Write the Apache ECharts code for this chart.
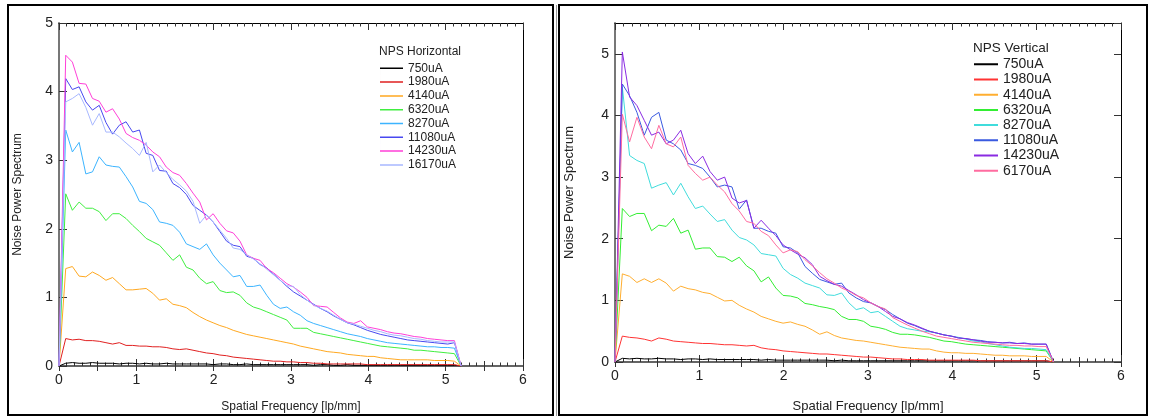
<!DOCTYPE html>
<html>
<head>
<meta charset="utf-8">
<script src="https://cdn.jsdelivr.net/npm/echarts@6/dist/echarts.min.js"></script>
<style>
html,body{margin:0;padding:0;background:#fff;}
#c{width:1149px;height:418px;}
</style>
</head>
<body>
<div id="c"></div>
<script>
// ---------- DATA ----------
const freq = [0, 0.087, 0.173, 0.26, 0.347, 0.433, 0.52, 0.607, 0.693, 0.78, 0.867, 0.953, 1.04, 1.127, 1.213, 1.3, 1.387, 1.473, 1.56, 1.647, 1.733, 1.82, 1.907, 1.993, 2.08, 2.167, 2.253, 2.34, 2.427, 2.513, 2.6, 2.687, 2.773, 2.86, 2.947, 3.033, 3.12, 3.207, 3.293, 3.38, 3.467, 3.553, 3.64, 3.727, 3.813, 3.9, 3.987, 4.073, 4.16, 4.247, 4.333, 4.42, 4.507, 4.593, 4.68, 4.767, 4.853, 4.94, 5.027, 5.113, 5.2];

const xTicks = [0, 1, 2, 3, 4, 5, 6];
const hTitle = 'NPS Horizontal';
const vTitle = 'NPS Vertical';
const xName = 'Spatial Frequency [lp/mm]';
const yName = 'Noise Power Spectrum';

const hNames = ['750uA', '1980uA', '4140uA', '6320uA', '8270uA', '11080uA', '14230uA', '16170uA'];
const vNames = ['750uA', '1980uA', '4140uA', '6320uA', '8270uA', '11080uA', '14230uA', '6170uA'];

// Horizontal NPS
const h750 = [0, 0.04,0.05,0.04,0.04,0.05,0.04,0.04,0.04,0.03,0.04, 0.04,0.03,0.04,0.03,0.03,0.04,0.03,0.03,0.03,0.03, 0.03,0.03,0.02,0.03,0.03,0.02,0.02,0.03,0.02,0.02, 0.02,0.02,0.02,0.02,0.02,0.02,0.02,0.01,0.02,0.02, 0.01,0.01,0.02,0.01,0.01,0.01,0.01,0.01,0.01,0.01, 0.01,0.01,0.01,0.01,0.01,0.01,0.01,0.01,0.01, 0];
const h1980 = [0, 0.40,0.38,0.39,0.37,0.37,0.36,0.34,0.32,0.34,0.30, 0.30,0.29,0.29,0.28,0.28,0.27,0.25,0.24,0.25,0.23, 0.21,0.19,0.18,0.16,0.15,0.13,0.12,0.11,0.10,0.09, 0.08,0.07,0.07,0.06,0.06,0.05,0.05,0.04,0.04,0.03, 0.03,0.03,0.03,0.03,0.03,0.02,0.02,0.02,0.02,0.02, 0.02,0.02,0.02,0.02,0.02,0.02,0.02,0.02,0.02, 0];
const h4140 = [0, 1.42,1.45,1.31,1.30,1.37,1.32,1.25,1.29,1.20,1.11, 1.11,1.12,1.13,1.06,0.96,0.98,0.90,0.88,0.85,0.78, 0.72,0.67,0.63,0.59,0.56,0.52,0.49,0.46,0.44,0.42, 0.40,0.38,0.36,0.34,0.32,0.29,0.27,0.25,0.23,0.21, 0.20,0.19,0.17,0.16,0.15,0.14,0.14,0.12,0.11,0.10, 0.09,0.09,0.09,0.09,0.09,0.08,0.08,0.08,0.07, 0];
const h6320 = [0, 2.51,2.27,2.39,2.30,2.30,2.25,2.12,2.22,2.22,2.15, 2.05,1.96,1.86,1.81,1.76,1.65,1.54,1.62,1.44,1.40, 1.28,1.20,1.23,1.10,1.07,1.08,1.03,0.92,0.86,0.83, 0.79,0.75,0.71,0.67,0.55,0.55,0.55,0.49,0.47,0.45, 0.43,0.41,0.39,0.37,0.35,0.33,0.31,0.29,0.28,0.27, 0.26,0.25,0.23,0.23,0.22,0.21,0.20,0.19,0.18, 0];
const h8270 = [0, 3.44,3.12,3.26,2.80,2.83,3.05,2.93,2.91,2.90,2.76, 2.61,2.40,2.37,2.28,2.10,2.08,2.05,1.95,1.78,1.74, 1.70,1.78,1.62,1.50,1.40,1.30,1.32,1.16,1.16,1.18, 1.03,0.90,0.84,0.86,0.79,0.74,0.66,0.62,0.59,0.56, 0.53,0.50,0.47,0.45,0.43,0.40,0.38,0.36,0.34,0.33, 0.32,0.31,0.30,0.29,0.28,0.28,0.27,0.27,0.26, 0];
const h11080 = [0, 4.19,4.03,4.07,3.85,3.73,3.80,3.55,3.38,3.51,3.56, 3.41,3.44,3.10,3.07,2.85,2.84,2.66,2.60,2.50,2.34, 2.27,2.20,2.10,1.96,1.82,1.76,1.74,1.60,1.57,1.48, 1.43,1.34,1.25,1.16,1.08,1.02,0.96,0.90,0.84,0.79, 0.73,0.68,0.63,0.60,0.56,0.52,0.49,0.46,0.44,0.42, 0.40,0.38,0.37,0.36,0.35,0.34,0.33,0.32,0.34, 0];
const h14230 = [0, 4.53,4.43,4.12,4.11,3.90,3.86,3.70,3.75,3.60,3.39, 3.33,3.29,3.22,3.12,3.05,2.90,2.82,2.78,2.66,2.52, 2.39,2.13,2.22,2.08,1.97,1.94,1.82,1.62,1.57,1.54, 1.42,1.36,1.28,1.20,1.15,1.08,1.00,0.88,0.87,0.86, 0.78,0.70,0.64,0.62,0.66,0.57,0.55,0.53,0.50,0.48, 0.47,0.45,0.43,0.42,0.40,0.39,0.38,0.37,0.37, 0];
const h16170 = [0, 3.85,3.90,3.97,3.77,3.51,3.68,3.41,3.41,3.34,3.25, 3.17,3.07,3.26,2.83,2.93,2.82,2.72,2.64,2.55,2.40, 2.08,2.20,2.10,1.98,1.86,1.72,1.70,1.62,1.56,1.49, 1.41,1.33,1.25,1.17,1.16,1.04,0.96,0.89,0.84,0.80, 0.74,0.68,0.63,0.61,0.58,0.55,0.52,0.50,0.47,0.45, 0.44,0.42,0.40,0.39,0.37,0.36,0.35,0.35,0.35, 0];

// Vertical NPS
const v750 = [0, 0.06,0.05,0.06,0.05,0.05,0.06,0.05,0.05,0.04,0.05, 0.05,0.04,0.05,0.04,0.04,0.04,0.04,0.04,0.04,0.03, 0.04,0.03,0.03,0.03,0.03,0.03,0.03,0.03,0.03,0.02, 0.03,0.02,0.02,0.02,0.02,0.02,0.02,0.02,0.02,0.02, 0.02,0.02,0.02,0.02,0.02,0.02,0.02,0.02,0.02,0.02, 0.02,0.02,0.02,0.02,0.02,0.02,0.02,0.02,0.02, 0];
const v1980 = [0, 0.42,0.40,0.39,0.37,0.34,0.39,0.37,0.34,0.33,0.32, 0.31,0.30,0.30,0.29,0.28,0.28,0.27,0.26,0.27,0.23, 0.21,0.20,0.18,0.17,0.16,0.15,0.14,0.13,0.13,0.12, 0.11,0.10,0.09,0.08,0.08,0.07,0.06,0.05,0.05,0.04, 0.04,0.04,0.03,0.03,0.03,0.03,0.03,0.03,0.03,0.02, 0.02,0.02,0.02,0.02,0.02,0.02,0.02,0.02,0.02, 0];
const v4140 = [0, 1.43,1.39,1.29,1.35,1.29,1.35,1.28,1.15,1.23,1.19, 1.17,1.13,1.11,1.05,0.99,1.00,0.92,0.86,0.81,0.74, 0.70,0.66,0.63,0.65,0.61,0.58,0.52,0.45,0.49,0.43, 0.39,0.37,0.35,0.34,0.32,0.30,0.28,0.26,0.24,0.23, 0.22,0.21,0.21,0.18,0.16,0.15,0.15,0.14,0.14,0.13, 0.12,0.11,0.11,0.10,0.10,0.10,0.09,0.09,0.09, 0];
const v6320 = [0, 2.49,2.36,2.41,2.41,2.13,2.22,2.20,2.33,2.09,2.14, 1.83,1.85,1.85,1.71,1.70,1.63,1.70,1.56,1.48,1.30, 1.38,1.20,1.08,1.07,1.04,0.95,0.93,0.90,0.88,0.85, 0.74,0.69,0.69,0.66,0.58,0.56,0.53,0.48,0.45,0.45, 0.44,0.42,0.40,0.37,0.34,0.33,0.31,0.29,0.28,0.27, 0.26,0.25,0.24,0.23,0.22,0.21,0.20,0.19,0.18, 0];
const v8270 = [0, 4.46,3.35,3.27,3.22,2.82,2.87,2.91,2.71,2.90,2.68, 2.49,2.53,2.40,2.28,2.31,2.14,2.02,1.98,1.90,1.76, 1.74,1.72,1.52,1.42,1.36,1.28,1.24,1.20,1.09,1.08, 1.12,0.96,0.85,0.88,0.80,0.82,0.74,0.66,0.58,0.54, 0.52,0.50,0.49,0.47,0.44,0.42,0.40,0.37,0.34,0.33, 0.30,0.28,0.26,0.24,0.23,0.22,0.22,0.21,0.20, 0];
const v11080 = [0, 4.51,4.32,4.05,3.68,3.97,4.05,3.60,3.54,3.44,3.22, 3.19,3.14,3.00,2.84,2.87,2.84,2.48,2.63,2.17,2.17, 2.12,2.09,1.87,1.85,1.77,1.55,1.44,1.34,1.30,1.26, 1.28,1.12,1.04,0.98,0.96,0.90,0.85,0.77,0.70,0.63, 0.59,0.54,0.50,0.47,0.44,0.42,0.39,0.38,0.36,0.35, 0.33,0.32,0.31,0.32,0.30,0.31,0.29,0.29,0.29, 0];
const v14230 = [0, 5.03,4.30,4.16,3.92,3.68,3.73,3.54,3.60,3.76,3.38, 3.22,3.34,3.09,2.95,3.00,2.66,2.58,2.62,2.17,2.30, 2.17,2.05,1.90,1.82,1.75,1.69,1.58,1.39,1.32,1.26, 1.23,1.16,1.09,1.01,0.96,0.90,0.82,0.74,0.70,0.64, 0.60,0.55,0.50,0.47,0.44,0.42,0.39,0.38,0.36,0.34, 0.32,0.32,0.31,0.31,0.30,0.30,0.29,0.29,0.29, 0];
const v6170 = [0, 4.02,3.57,3.97,3.65,3.46,3.84,3.54,3.49,3.65,3.19, 3.06,2.95,3.00,2.87,2.76,2.57,2.45,2.28,2.25,2.12, 2.05,1.90,1.77,1.82,1.79,1.66,1.56,1.45,1.35,1.28, 1.20,1.15,1.08,1.04,0.96,0.90,0.86,0.72,0.66,0.60, 0.55,0.50,0.46,0.42,0.40,0.38,0.36,0.34,0.32,0.31, 0.30,0.29,0.28,0.27,0.27,0.26,0.26,0.25,0.25, 0];

const hValues = [h750, h1980, h4140, h6320, h8270, h11080, h14230, h16170];
const vValues = [v750, v1980, v4140, v6320, v8270, v11080, v14230, v6170];

// ---------- STYLE ----------
const hColors = ['#000000', '#e02020', '#ffa820', '#40ee40', '#3cb4ff', '#4848f0', '#ff40d8', '#a8b8ff'];
const vColors = ['#000000', '#ff3333', '#ffae30', '#33ee33', '#40dcdc', '#3a5ae0', '#8a2be2', '#ff6ca0'];
const FONT = '"Liberation Sans", Arial, sans-serif';
const TXT = '#222';
const V_PREFIX = 'V:'; // internal id prefix so that both panels have distinct series

const grids = [
  {left: 59, top: 23, width: 464, height: 343},
  {left: 615, top: 23, width: 506, height: 340}
];

function xAxesFor(g, nameSize, nameGap) {
  const base = {gridIndex: g, type: 'value', min: xTicks[0], max: xTicks[xTicks.length - 1],
    splitLine: {show: false}, minorSplitLine: {show: false}};
  return [
    Object.assign({}, base, {
      position: 'bottom', interval: 1,
      name: xName, nameLocation: 'middle', nameGap: nameGap,
      nameTextStyle: {fontSize: nameSize, color: TXT, fontFamily: FONT},
      axisLine: {show: true, onZero: false, lineStyle: {color: '#333', width: 1.5}},
      axisTick: {show: true, inside: true, length: 7, lineStyle: {color: '#333', width: 1}},
      minorTick: {show: true, splitNumber: 10, length: 3.5, lineStyle: {color: '#333', width: 1}},
      axisLabel: {fontSize: 14, color: TXT, margin: 7, fontFamily: FONT}
    }),
    Object.assign({}, base, {
      position: 'bottom', interval: 0.5,
      axisLine: {show: false},
      axisTick: {show: true, inside: true, length: 5, lineStyle: {color: '#333', width: 1}},
      axisLabel: {show: false}
    }),
    Object.assign({}, base, {
      position: 'top', interval: 1,
      axisLine: {show: true, onZero: false, lineStyle: {color: '#000', width: 1}},
      axisTick: {show: true, inside: true, length: 7, lineStyle: {color: '#333', width: 1}},
      minorTick: {show: true, splitNumber: 10, length: 3.5, lineStyle: {color: '#333', width: 1}},
      axisLabel: {show: false}
    }),
    Object.assign({}, base, {
      position: 'top', interval: 0.5,
      axisLine: {show: false},
      axisTick: {show: true, inside: true, length: 5, lineStyle: {color: '#333', width: 1}},
      axisLabel: {show: false}
    })
  ];
}

function yAxesFor(g, maxV, nameSize, nameGap, rightTicks) {
  return [
    {gridIndex: g, type: 'value', min: 0, max: maxV, interval: 1, position: 'left',
      name: yName, nameLocation: 'middle', nameGap: nameGap,
      nameTextStyle: {fontSize: nameSize, color: TXT, fontFamily: FONT},
      axisLine: {show: true, onZero: false, lineStyle: {color: '#777', width: 2}},
      axisTick: {show: true, inside: true, length: 8, lineStyle: {color: '#333', width: 1}},
      axisLabel: {fontSize: 14, color: TXT, margin: 6, fontFamily: FONT, showMaxLabel: maxV === 5},
      splitLine: {show: false}},
    {gridIndex: g, type: 'value', min: 0, max: maxV, interval: 1, position: 'right',
      axisLine: {show: true, onZero: false, lineStyle: {color: '#000', width: 1}},
      axisTick: {show: rightTicks, inside: true, length: 7, lineStyle: {color: '#333', width: 1}},
      axisLabel: {show: false},
      splitLine: {show: false}}
  ];
}

function buildSeries(names, values, colors, xIdx, yIdx, prefix) {
  return names.map((n, i) => ({
    name: prefix + n, type: 'line', xAxisIndex: xIdx, yAxisIndex: yIdx,
    data: freq.map((f, k) => [f, values[i][k]]),
    symbol: 'none', showSymbol: false, silent: true,
    lineStyle: {color: colors[i], width: 1},
    itemStyle: {color: colors[i]},
    emphasis: {disabled: true},
    z: 2 + i
  }));
}

const chart = echarts.init(document.getElementById('c'), null, {renderer: 'canvas'});

const option = {
  animation: false,
  backgroundColor: '#ffffff',
  grid: grids,
  xAxis: xAxesFor(0, 12, 35).concat(xAxesFor(1, 13, 38)),
  yAxis: yAxesFor(0, 5, 12, 35, false).concat(yAxesFor(1, 5.5, 13, 39, true)),
  title: [
    {text: hTitle, left: 379, top: 46, padding: 0,
      textStyle: {fontSize: 12, fontWeight: 'normal', color: TXT, fontFamily: FONT}},
    {text: vTitle, left: 973, top: 41.5, padding: 0,
      textStyle: {fontSize: 13.5, fontWeight: 'normal', color: TXT, fontFamily: FONT}}
  ],
  legend: [
    {orient: 'vertical', left: 380, top: 61.4, padding: 0, itemGap: 0,
      icon: 'rect', itemWidth: 23, itemHeight: 13.8, selectedMode: false,
      textStyle: {fontSize: 12, lineHeight: 13.8, color: TXT, fontFamily: FONT},
      formatter: n => n,
      data: hNames.map((n, i) => ({name: n, itemStyle: {color: hColors[i]}}))},
    {orient: 'vertical', left: 974, top: 56.7, padding: 0, itemGap: 0,
      icon: 'rect', itemWidth: 24, itemHeight: 15.2, selectedMode: false,
      textStyle: {fontSize: 14, lineHeight: 15.2, color: TXT, fontFamily: FONT},
      formatter: n => n.slice(V_PREFIX.length),
      data: vNames.map((n, i) => ({name: V_PREFIX + n, itemStyle: {color: vColors[i]}}))}
  ],
  graphic: [
    {type: 'rect', silent: true, shape: {x: 8, y: 5, width: 545, height: 410},
      style: {fill: 'none', stroke: '#000', lineWidth: 2}},
    {type: 'line', silent: true, shape: {x1: 556.5, y1: 5, x2: 556.5, y2: 416},
      style: {stroke: '#999', lineWidth: 1}},
    {type: 'rect', silent: true, shape: {x: 559, y: 5, width: 588, height: 410},
      style: {fill: 'none', stroke: '#000', lineWidth: 2}}
  ],
  series: buildSeries(hNames, hValues, hColors, 0, 0, '').concat(buildSeries(vNames, vValues, vColors, 4, 2, V_PREFIX))
};

chart.setOption(option);

// Turn the legend's full-height rect icons into thin horizontal strokes.
const legendIconH = [1.5, 2];
chart.setOption({
  legend: option.legend.map((lg, li) => ({
    itemHeight: lg.itemHeight,
    data: lg.data.map(d => ({name: d.name, icon: 'path://M0,' + (lg.itemHeight / 2 - legendIconH[li] / 2) + 'H' + lg.itemWidth + 'V' + (lg.itemHeight / 2 + legendIconH[li] / 2) + 'H0Z M0,0H0.01V' + lg.itemHeight + 'H0Z', itemStyle: d.itemStyle}))
  }))
});
</script>
</body>
</html>
